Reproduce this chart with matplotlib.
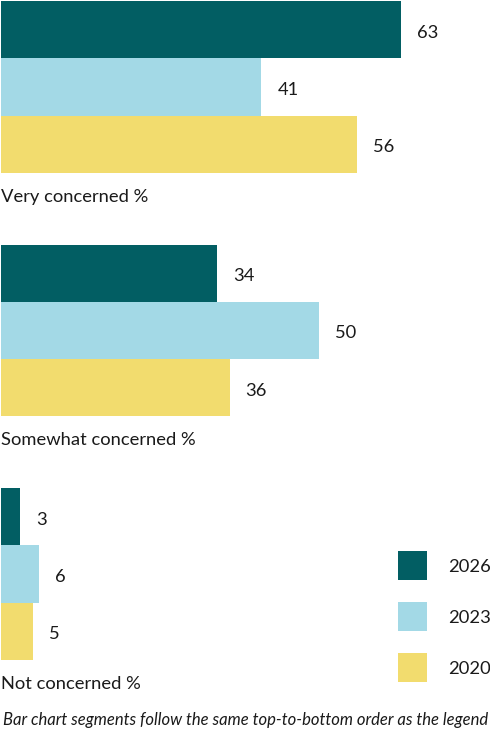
import numpy as np
import matplotlib
matplotlib.use('Agg')
import matplotlib.pyplot as plt
from matplotlib.patches import Rectangle

# data
categories = ['Very concerned %', 'Somewhat concerned %', 'Not concerned %']
years = ['2026', '2023', '2020']
values_2026 = [63, 34, 3]
values_2023 = [41, 50, 6]
values_2020 = [56, 36, 5]
colors = ['#025e63', '#a3d9e6', '#f2dc6e']
footnote = 'Bar chart segments follow the same top-to-bottom order as the legend'

plt.rcParams['font.family'] = ['Lato', 'DejaVu Sans']
text_color = '#1a1a1a'
fs = 13.2

W, H = 490, 738
px_x = 6.35      # pixels per percentage point
px_y = 57.3      # pixels per bar
group_step = 4.25

fig = plt.figure(figsize=(W / 100, H / 100), dpi=100)
ax = fig.add_axes([1 / W, 0, 1, 1])
ax.set_xlim(0, W / px_x)
ax.set_ylim((H - 1) / px_y, -1 / px_y)
ax.axis('off')

series = [values_2026, values_2023, values_2020]
for s, (vals, col, yr) in enumerate(zip(series, colors, years)):
    ys = np.arange(len(categories)) * group_step + s
    ax.barh(ys, vals, height=1, align='edge', color=col, label=yr)
    for y, v in zip(ys, vals):
        ax.text(v + 16 / px_x, y + 0.55, str(v), va='center', ha='left',
                fontsize=fs, color=text_color)

for g, cat in enumerate(categories):
    ax.text(0.3 / px_x, g * group_step + 3 + 24 / px_y, cat, va='center', ha='left',
            fontsize=fs, color=text_color)

# legend, drawn as squares in figure pixels
for i, (c, yr) in enumerate(zip(colors, years)):
    top = 551 + i * 51
    fig.add_artist(Rectangle((398 / W, 1 - (top + 29) / H), 29 / W, 29 / H,
                             transform=fig.transFigure, facecolor=c, edgecolor='none'))
    fig.text(448 / W, 1 - (top + 16) / H, yr, va='center', ha='left',
             fontsize=fs, color=text_color)

fig.text(3 / W, 1 - 720 / H, footnote, style='italic', fontsize=12,
         va='center', ha='left', color=text_color)

fig.savefig('out.png', dpi=100)
